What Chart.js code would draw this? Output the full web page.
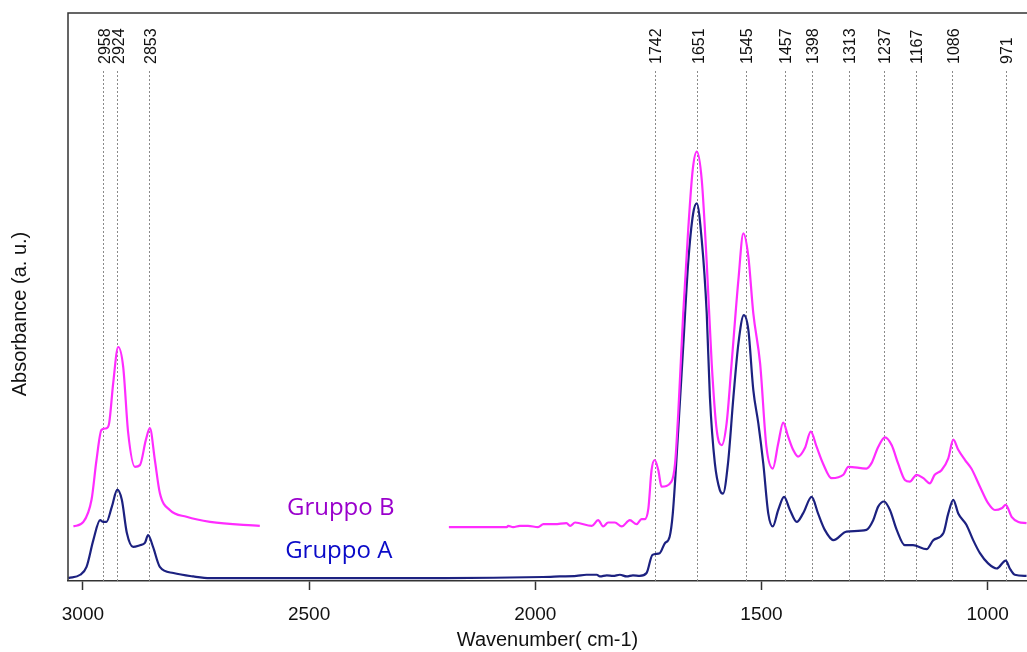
<!DOCTYPE html>
<html>
<head>
<meta charset="utf-8">
<script src="https://cdn.jsdelivr.net/npm/chart.js@4.4.0/dist/chart.umd.min.js"></script>
<style>
  html, body { margin: 0; padding: 0; background: #fff; overflow: hidden; }
  #wrap { width: 1027px; height: 652px; }
</style>
</head>
<body>
<div id="wrap"><canvas id="ftirChart" width="1027" height="652"></canvas></div>
<script>
// wavenumbers (cm-1) and absorbance (a.u.)
const wnA = [3032, 3006, 2992, 2977, 2962, 2955, 2948, 2936, 2924, 2914, 2903, 2889, 2874, 2863, 2856, 2845,
  2830, 2800, 2756, 2719, 2500, 2200, 1983, 1946, 1909, 1887, 1864, 1857, 1842, 1828, 1813, 1798, 1784, 1769,
  1754, 1741, 1725, 1714, 1703, 1696, 1684, 1673, 1662, 1651, 1643, 1632, 1621, 1614, 1603, 1592, 1585, 1574,
  1562, 1551, 1539, 1529, 1518, 1507, 1496, 1485, 1475, 1463, 1450, 1437, 1422, 1408, 1389, 1375, 1360, 1341,
  1312, 1268, 1253, 1242, 1229, 1216, 1201, 1183, 1165, 1135, 1120, 1098, 1087, 1076, 1065, 1047, 1032, 1017,
  999, 980, 960, 951, 940, 914];
const absA = [0.005, 0.011, 0.025, 0.072, 0.107, 0.104, 0.104, 0.131, 0.161, 0.143, 0.085, 0.060, 0.063, 0.067, 0.081, 0.060,
  0.025, 0.014, 0.008, 0.005, 0.005, 0.005, 0.007, 0.008, 0.009, 0.011, 0.011, 0.008, 0.010, 0.009, 0.011, 0.008, 0.010, 0.009,
  0.014, 0.046, 0.049, 0.066, 0.078, 0.119, 0.266, 0.413, 0.560, 0.647, 0.665, 0.600, 0.471, 0.324, 0.207, 0.160, 0.154, 0.207,
  0.324, 0.418, 0.468, 0.442, 0.336, 0.278, 0.207, 0.119, 0.096, 0.125, 0.148, 0.125, 0.104, 0.119, 0.148, 0.119, 0.090, 0.072,
  0.087, 0.090, 0.107, 0.131, 0.140, 0.125, 0.090, 0.063, 0.063, 0.056, 0.072, 0.084, 0.119, 0.143, 0.119, 0.099, 0.072, 0.049,
  0.031, 0.022, 0.036, 0.022, 0.011, 0.009];

const wnB = [3021, 2999, 2981, 2970, 2959, 2948, 2942, 2933, 2922, 2911, 2900, 2885, 2874, 2861, 2852, 2841,
  2830, 2808, 2771, 2719, 2609, 2400, 2191, 2063, 2060, 2049, 2034, 2016, 1994, 1982, 1957, 1931, 1923, 1912,
  1875, 1861, 1850, 1839, 1824, 1809, 1791, 1776, 1765, 1758, 1750, 1743, 1736, 1728, 1721, 1699, 1691, 1684,
  1673, 1662, 1652, 1643, 1632, 1621, 1610, 1599, 1588, 1577, 1566, 1551, 1540, 1529, 1518, 1503, 1489, 1475,
  1463, 1452, 1441, 1430, 1419, 1404, 1391, 1378, 1364, 1345, 1319, 1308, 1268, 1257, 1242, 1227, 1212, 1198,
  1183, 1172, 1157, 1142, 1128, 1117, 1102, 1087, 1076, 1065, 1050, 1036, 1017, 999, 984, 969, 960, 947, 932, 914];
const absB = [0.096, 0.104, 0.143, 0.213, 0.266, 0.269, 0.278, 0.349, 0.412, 0.377, 0.261, 0.201, 0.204, 0.248, 0.269, 0.213,
  0.155, 0.125, 0.113, 0.104, 0.097, null, 0.095, 0.095, 0.097, 0.095, 0.097, 0.097, 0.095, 0.100, 0.100, 0.102, 0.097, 0.103,
  0.097, 0.107, 0.096, 0.103, 0.103, 0.096, 0.107, 0.100, 0.109, 0.109, 0.128, 0.195, 0.213, 0.195, 0.166, 0.175, 0.207, 0.295,
  0.471, 0.618, 0.724, 0.756, 0.706, 0.560, 0.383, 0.266, 0.239, 0.278, 0.383, 0.530, 0.612, 0.571, 0.471, 0.383, 0.236, 0.198,
  0.242, 0.279, 0.254, 0.231, 0.219, 0.234, 0.263, 0.236, 0.207, 0.181, 0.187, 0.201, 0.198, 0.207, 0.236, 0.253, 0.239, 0.207,
  0.178, 0.175, 0.187, 0.181, 0.172, 0.187, 0.195, 0.216, 0.249, 0.231, 0.213, 0.198, 0.166, 0.137, 0.125, 0.128, 0.134, 0.113, 0.104, 0.102];

// marked bands: label text and where the dotted line sits in the picture
const peakLabels = ['2958', '2924', '2853', '1742', '1651', '1545', '1457', '1398', '1313', '1237', '1167', '1086', '971'];
const peakPos = [2955, 2924, 2853, 1736, 1642, 1534, 1448, 1389, 1307, 1229, 1159, 1078, 960];

// in-plot series names: [text, wavenumber, absorbance at baseline, colour]
const seriesNames = [
  ['Gruppo B', 2549, 0.116, '#9a00cc'],
  ['Gruppo A', 2553, 0.040, '#0a0ac8']
];

const xTicks = [3000, 2500, 2000, 1500, 1000];

function toPoints(xs, ys) {
  return xs.map((x, i) => ({ x: x, y: ys[i] }));
}

const decorations = {
  id: 'decorations',
  beforeDatasetsDraw(chart) {
    const ctx = chart.ctx;
    const area = chart.chartArea;
    const xs = chart.scales.x;
    ctx.save();
    // peak markers
    ctx.strokeStyle = '#8a8a8a';
    ctx.lineWidth = 1;
    ctx.setLineDash([2, 2]);
    peakPos.forEach((p) => {
      const px = Math.round(xs.getPixelForValue(p)) + 0.5;
      ctx.beginPath();
      ctx.moveTo(px, 71);
      ctx.lineTo(px, area.bottom);
      ctx.stroke();
    });
    ctx.setLineDash([]);
    ctx.fillStyle = '#111';
    ctx.font = '16px Arial, "Liberation Sans", sans-serif';
    ctx.textBaseline = 'middle';
    ctx.textAlign = 'left';
    peakPos.forEach((p, i) => {
      const px = xs.getPixelForValue(p) + 2;
      ctx.save();
      ctx.translate(px, 64);
      ctx.rotate(-Math.PI / 2);
      ctx.fillText(peakLabels[i], 0, 0);
      ctx.restore();
    });
    ctx.restore();
  },
  afterDraw(chart) {
    const ctx = chart.ctx;
    const area = chart.chartArea;
    const xs = chart.scales.x;
    const ys = chart.scales.y;
    ctx.save();
    // frame: top and left
    ctx.strokeStyle = '#333';
    ctx.lineWidth = 1.5;
    ctx.beginPath();
    ctx.moveTo(area.left, area.bottom);
    ctx.lineTo(area.left, area.top);
    ctx.lineTo(chart.width, area.top);
    ctx.stroke();
    // series names
    ctx.font = '24px "Open Sans", "Noto Sans", sans-serif';
    ctx.textAlign = 'left';
    ctx.textBaseline = 'alphabetic';
    seriesNames.forEach((s) => {
      ctx.fillStyle = s[3];
      ctx.fillText(s[0], xs.getPixelForValue(s[1]), ys.getPixelForValue(s[2]));
    });
    // y title
    ctx.fillStyle = '#111';
    ctx.font = '20px Arial, "Liberation Sans", sans-serif';
    ctx.textAlign = 'center';
    ctx.textBaseline = 'middle';
    ctx.translate(20, 314);
    ctx.rotate(-Math.PI / 2);
    ctx.fillText('Absorbance (a. u.)', 0, 0);
    ctx.restore();
  }
};

new Chart(document.getElementById('ftirChart').getContext('2d'), {
  type: 'line',
  data: {
    datasets: [{
      label: 'Gruppo B',
      data: toPoints(wnB, absB),
      borderColor: '#ff2cff',
      borderWidth: 2.2,
      pointRadius: 0,
      cubicInterpolationMode: 'monotone',
      spanGaps: false,
      fill: false
    }, {
      label: 'Gruppo A',
      data: toPoints(wnA, absA),
      borderColor: '#1c2180',
      borderWidth: 2.2,
      pointRadius: 0,
      cubicInterpolationMode: 'monotone',
      fill: false
    }]
  },
  options: {
    responsive: false,
    animation: false,
    devicePixelRatio: 1,
    layout: { padding: { top: 13, right: 0, left: 0, bottom: 0 } },
    plugins: {
      legend: { display: false },
      tooltip: { enabled: false }
    },
    scales: {
      x: {
        type: 'linear',
        reverse: true,
        min: 913,
        max: 3033,
        afterFit: (s) => { s.height = 71; },
        afterBuildTicks: (s) => { s.ticks = xTicks.map((v) => ({ value: v })); },
        border: { display: true, color: '#333', width: 1.5 },
        grid: { drawOnChartArea: false, drawTicks: true, tickLength: 9, tickColor: '#333', tickWidth: 1.5 },
        ticks: {
          color: '#111',
          padding: 13,
          maxRotation: 0,
          includeBounds: false,
          callback: (v) => String(v),
          font: { family: 'Arial, "Liberation Sans", sans-serif', size: 19 }
        },
        title: {
          display: true,
          text: 'Wavenumber( cm-1)',
          color: '#111',
          padding: 0,
          font: { family: 'Arial, "Liberation Sans", sans-serif', size: 20 }
        }
      },
      y: {
        min: 0,
        max: 1,
        afterFit: (s) => { s.width = 68; },
        border: { display: false },
        grid: { display: false },
        ticks: { display: false }
      }
    }
  },
  plugins: [decorations]
});
</script>
</body>
</html>
